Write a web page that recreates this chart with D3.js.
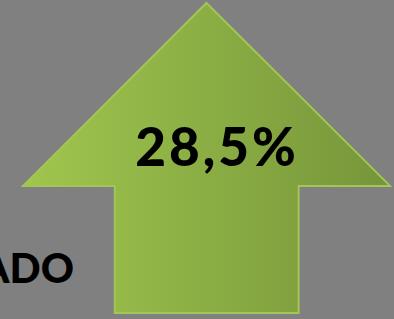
<!DOCTYPE html>
<html>
<head>
<meta charset="utf-8">
<script src="https://cdn.jsdelivr.net/npm/d3@7"></script>
<style>
  html, body { margin: 0; padding: 0; background: #808080; overflow: hidden; }
  svg { display: block; }
</style>
</head>
<body>
<div id="chart"></div>
<script>
const width = 394;
const height = 319;

// values
const values = [28.5];
const valueLabels = ["28,5%"];
const sideLabels = ["ADO"];

const svg = d3.select("#chart")
  .append("svg")
  .attr("width", width)
  .attr("height", height);

svg.append("rect").attr("width", width).attr("height", height).attr("fill", "#808080");

// arrow is drawn in unit space and mapped through scales
const x = d3.scaleLinear().domain([0, 1]).range([23, 390]);
const y = d3.scaleLinear().domain([0, 1]).range([313, 3]);

const head = 0.41;   // head base as share of height
const shaft = [0.25, 0.751];
const arrowPts = [
  [0.5, 1], [1, head], [shaft[1], head], [shaft[1], 0],
  [shaft[0], 0], [shaft[0], head], [0, head]
];

const defs = svg.append("defs");
const grad = defs.append("linearGradient")
  .attr("id", "g")
  .attr("x1", "0%").attr("x2", "100%").attr("y1", "0%").attr("y2", "0%");
grad.append("stop").attr("offset", "0%").attr("stop-color", "#a0c64e");
grad.append("stop").attr("offset", "100%").attr("stop-color", "#76953a");

svg.append("path")
  .attr("d", d3.line().x(d => x(d[0])).y(d => y(d[1])).curve(d3.curveLinearClosed)(arrowPts))
  .attr("fill", "url(#g)")
  .attr("stroke", "#a2c556")
  .attr("stroke-width", 2)
  .attr("stroke-linejoin", "miter");

svg.selectAll("text.val")
  .data(values)
  .enter()
  .append("text")
  .attr("class", "val")
  .attr("x", 217)
  .attr("y", 166)
  .attr("text-anchor", "middle")
  .attr("font-family", "Lato, 'Open Sans', sans-serif")
  .attr("font-weight", "900")
  .attr("font-size", 53)
  .attr("letter-spacing", 3)
  .attr("fill", "#000")
  .text((d, i) => valueLabels[i]);

svg.selectAll("text.side")
  .data(sideLabels)
  .enter()
  .append("text")
  .attr("class", "side")
  .attr("x", 74)
  .attr("y", 283)
  .attr("text-anchor", "end")
  .attr("font-family", "Lato, 'Open Sans', sans-serif")
  .attr("font-weight", "900")
  .attr("font-size", 41)
  .attr("fill", "#000")
  .text(d => d);
</script>
</body>
</html>
